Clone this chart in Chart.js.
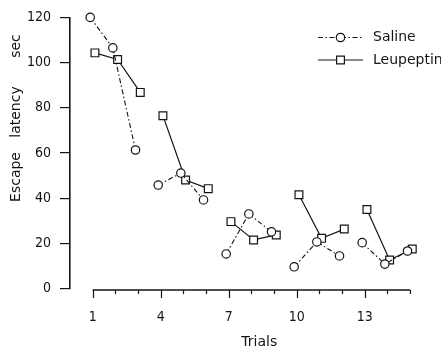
<!DOCTYPE html>
<html><head><meta charset="utf-8">
<script src="https://cdn.jsdelivr.net/npm/chart.js@4/dist/chart.umd.min.js"></script>
<style>html,body{margin:0;padding:0;background:#fff}#wrap{width:441px;height:349px;position:relative}</style>
</head><body><div id="wrap"><canvas id="c" width="441" height="349"></canvas></div>
<script>
// ---- data ----
const trials = [1,2,3,4,5,6,7,8,9,10,11,12,13,14,15];
const salineValues    = [120,106.5,61.3, 45.8,51.1,39.2, 15.3,33.0,25.1, 9.6,20.6,14.4, 20.3,10.8,16.6];
const leupeptinValues = [104.3,101.4,86.8, 76.5,48.0,44.2, 29.6,21.5,23.7, 41.5,22.2,26.3, 35.0,12.6,17.5];
const xTickLabels = [1,4,7,10,13];
const yTickValues = [0,20,40,60,80,100,120];
const seriesNames = ['Saline','Leupeptin'];
const xTitle = 'Trials';
const yTitleWords = ['Escape','latency','sec'];
const BLOCK = 3;

// ---- styles ----
const INK = '#141414';
const DODGE_SALINE = -0.11, DODGE_LEUP = 0.10;
const SALINE_DASH = [5,2.5,1.5,2.5];
const FONT_TEXT = '14px "DejaVu Sans", sans-serif';
const TICK_FONT = {family:'"DejaVu Sans Condensed", "DejaVu Sans", sans-serif', size:14};

const blockOf = i => Math.floor((trials[i]-1)/BLOCK);
const segColor = ctx => blockOf(ctx.p0DataIndex) === blockOf(ctx.p1DataIndex) ? INK : 'rgba(0,0,0,0)';

const decor = {
  id:'decor',
  afterDraw(chart){
    const c = chart.ctx, xs = chart.scales.x, a = chart.chartArea;
    c.save();
    c.strokeStyle = INK; c.fillStyle = INK;
    // x axis line
    const yb = a.bottom + 1.5;
    c.lineWidth = 1.6;
    c.beginPath(); c.moveTo(xs.getPixelForValue(trials[0]), yb); c.lineTo(xs.getPixelForValue(trials[trials.length-1]), yb); c.stroke();
    c.lineWidth = 1.2;
    trials.forEach(t => {
      const px = Math.round(xs.getPixelForValue(t)) + 0.5;
      const len = xTickLabels.includes(t) ? 8 : 4;
      c.beginPath(); c.moveTo(px, yb); c.lineTo(px, yb + len); c.stroke();
    });
    // x title
    c.font = FONT_TEXT; c.textAlign = 'center'; c.textBaseline = 'middle';
    c.fillText(xTitle, xs.getPixelForValue(8.35), 342);
    // y title words
    const wordY = [177, 112, 46];
    yTitleWords.forEach((w,i) => {
      c.save(); c.translate(16, wordY[i]); c.rotate(-Math.PI/2);
      c.fillText(w, 0, 0); c.restore();
    });
    // legend
    const lx0 = 318, lx1 = 363, mx = 340.5, tx = 373;
    const rows = [37.5, 60];
    c.lineWidth = 1.1;
    c.setLineDash(SALINE_DASH);
    c.beginPath(); c.moveTo(lx0, rows[0]); c.lineTo(lx1, rows[0]); c.stroke();
    c.setLineDash([]);
    c.fillStyle = '#fff'; c.lineWidth = 1.2;
    c.beginPath(); c.arc(mx, rows[0], 4.2, 0, Math.PI*2); c.fill(); c.stroke();
    c.beginPath(); c.moveTo(lx0, rows[1]); c.lineTo(lx1, rows[1]); c.stroke();
    c.beginPath(); c.rect(mx-3.9, rows[1]-3.9, 7.8, 7.8); c.fill(); c.stroke();
    c.fillStyle = INK; c.textAlign = 'left';
    c.fillText(seriesNames[0], tx, rows[0]);
    c.fillText(seriesNames[1], tx, rows[1]);
    c.restore();
  }
};

new Chart(document.getElementById('c'), {
  type:'line',
  data:{
    datasets:[
      {
        label: seriesNames[0],
        data: trials.map((t,i)=>({x:t+DODGE_SALINE, y:salineValues[i]})),
        borderColor: INK, borderWidth: 1.1, borderDash: SALINE_DASH,
        pointStyle:'circle', pointRadius:4.2, pointBorderWidth:1.2,
        pointBackgroundColor:'#fff', pointBorderColor: INK,
        segment:{ borderColor: segColor },
        clip:false, tension:0
      },
      {
        label: seriesNames[1],
        data: trials.map((t,i)=>({x:t+DODGE_LEUP, y:leupeptinValues[i]})),
        borderColor: INK, borderWidth: 1.2,
        pointStyle:'rect', pointRadius:5.5, pointBorderWidth:1.2,
        pointBackgroundColor:'#fff', pointBorderColor: INK,
        segment:{ borderColor: segColor },
        clip:false, tension:0
      }
    ]
  },
  options:{
    responsive:false, animation:false, devicePixelRatio:1,
    layout:{ padding:{ left:20, top:17, right:31, bottom:0 } },
    plugins:{ legend:{display:false}, tooltip:{enabled:false} },
    scales:{
      x:{
        type:'linear', min:0, max:15,
        afterBuildTicks: s => { s.ticks = xTickLabels.map(v=>({value:v})); },
        afterFit: s => { s.height = 60.5; },
        grid:{ display:false }, border:{ display:false },
        ticks:{ font:TICK_FONT, color:INK, padding:12, maxRotation:0, autoSkip:false }
      },
      y:{
        min:0, max:120,
        afterBuildTicks: s => { s.ticks = yTickValues.map(v=>({value:v})); },
        afterFit: s => { s.width = 50; },
        grid:{ drawOnChartArea:false, tickLength:10, color:INK, lineWidth:1.2 },
        border:{ display:true, color:INK, width:1.6 },
        ticks:{ font:TICK_FONT, color:INK, padding:9 }
      }
    }
  },
  plugins:[decor]
});
</script>
</body></html>
